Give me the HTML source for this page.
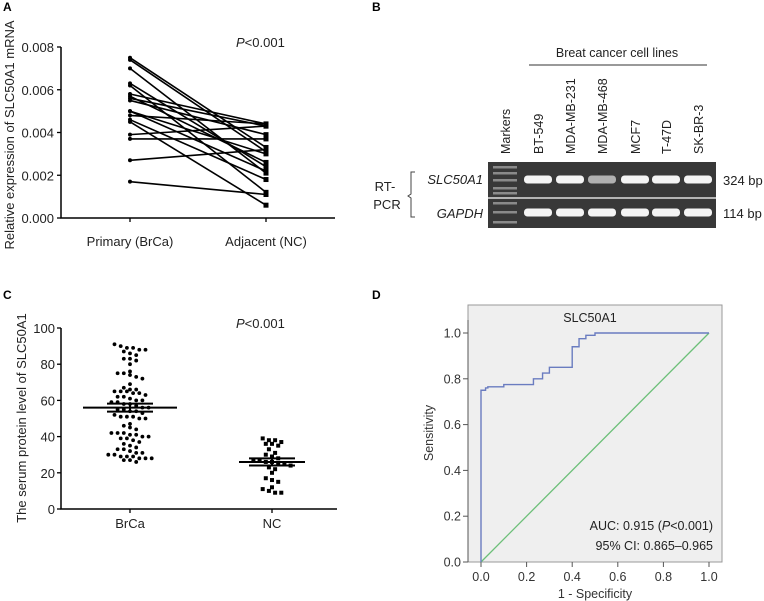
<!DOCTYPE html>
<html><head><meta charset="utf-8"><style>
body{margin:0;background:#fff;}
svg{display:block;font-family:"Liberation Sans",Arial,sans-serif;}
</style></head><body>
<svg id="fig" width="764" height="601" viewBox="0 0 764 601">
<g id="pa"></g>
<g id="pb"></g>
<g id="pc"></g>
<g id="pd"></g>
</svg>
<script>
// Panel A data
const aCategories = ["Primary (BrCa)", "Adjacent (NC)"];
const aPrimary = [0.0075,0.0074,0.0070,0.0063,0.0062,0.0058,0.0057,0.0056,0.0055,0.0050,0.0048,0.0046,0.0045,0.0039,0.0037,0.0027,0.0017,0.0050];
const aAdjacent = [0.0033,0.0031,0.0021,0.0024,0.0012,0.0044,0.0026,0.0043,0.0039,0.0022,0.0044,0.0018,0.0006,0.0043,0.0037,0.0032,0.0011,0.0030];
const aTicks = ["0.000","0.002","0.004","0.006","0.008"];
// Panel B data
const bLanes = ["Markers","BT-549","MDA-MB-231","MDA-MB-468","MCF7","T-47D","SK-BR-3"];
const bSlcIntensity = [1,1,0.6,1,1,1];
const bGapdhIntensity = [1,1,1,1,1,1];
// Panel C data
const cCategories = ["BrCa","NC"];
const cBrCa = [91,90,89,89,88,88,87,86,85,83,83,82,80,76,75,75,74,73,72,69,67,66,66,65,65,65,64,64,63,62,62,61,60,60,59,59,58,58,57,56,56,55,55,54,54,53,52,51,51,51,50,50,47,46,45,44,42,42,42,41,41,40,40,39,39,38,37,36,35,34,33,33,32,31,31,30,30,29,29,29,28,28,28,27,27,26];
const cNC = [39,38,38,37,36,36,35,33,31,30,29,28,27,27,26,26,25,25,24,23,22,20,17,16,15,12,11,10,9,9];
const cMeans = [56,26];
const cSem = [2.2,2.0];
const cTicks = [0,20,40,60,80,100];
// Panel D data
const dFpr = [0,0,0.02,0.02,0.03,0.03,0.1,0.1,0.23,0.23,0.27,0.27,0.3,0.3,0.4,0.4,0.43,0.43,0.46,0.46,0.5,0.5,1];
const dTpr = [0,0.75,0.75,0.76,0.76,0.765,0.765,0.775,0.775,0.80,0.80,0.825,0.825,0.85,0.85,0.94,0.94,0.975,0.975,0.99,0.99,1,1];
const dTicks = [0,0.2,0.4,0.6,0.8,1.0];

const NS="http://www.w3.org/2000/svg";
function mk(parent,tag,attrs,text){const e=document.createElementNS(NS,tag);for(const k in attrs)e.setAttribute(k,attrs[k]);if(text!==undefined)e.textContent=text;parent.appendChild(e);return e;}

// ---------- Panel A ----------
(function(){
const g=document.getElementById('pa');
const t=mk(g,'text',{x:3,y:11,'font-size':12,'font-weight':'bold'},'A');


const y=v=>218-(v/0.008)*171; const xs=[130,266];
const ax=mk(g,'path',{d:'M61 47 V218 H335',stroke:'#000','stroke-width':1.5,fill:'none'});


aTicks.forEach((s,i)=>{const v=+s;mk(g,'line',{x1:57,x2:61,y1:y(v),y2:y(v),stroke:'#000','stroke-width':1.3});
const tl=mk(g,'text',{x:54,y:y(v)+5,'font-size':13,'text-anchor':'end',fill:'#222'},s);

});
aCategories.forEach((c,i)=>{mk(g,'line',{x1:xs[i],x2:xs[i],y1:218,y2:222,stroke:'#000','stroke-width':1.3});
const tl=mk(g,'text',{x:xs[i],y:246,'font-size':13,'text-anchor':'middle',fill:'#222'},c);

});
const yt=mk(g,'text',{transform:'translate(14,135) rotate(-90)','font-size':13,'text-anchor':'middle',fill:'#222'},'Relative expression of SLC50A1 mRNA');


const p=mk(g,'text',{x:236,y:47,'font-size':13,fill:'#222'});


mk(p,'tspan',{'font-style':'italic'},'P');mk(p,'tspan',{},'<0.001');
aPrimary.forEach((v,i)=>{
const l=mk(g,'line',{x1:xs[0],y1:y(v),x2:xs[1],y2:y(aAdjacent[i]),stroke:'#000','stroke-width':1.6});


const c1=mk(g,'circle',{cx:xs[0],cy:y(v),r:2,fill:'#000'});


const c2=mk(g,'rect',{x:xs[1]-2.5,y:y(aAdjacent[i])-2.5,width:5,height:5,fill:'#000'});


});
})();

// ---------- Panel B ----------
(function(){
const g=document.getElementById('pb');
const t=mk(g,'text',{x:372,y:11,'font-size':12,'font-weight':'bold'},'B');


const h=mk(g,'text',{x:617,y:57,'font-size':12.5,'text-anchor':'middle',fill:'#222'},'Breat cancer cell lines');


mk(g,'line',{x1:529,x2:707,y1:65,y2:65,stroke:'#333','stroke-width':1});
const lx=[505,538,570,602,635,666,698];
bLanes.forEach((s,i)=>{const tl=mk(g,'text',{transform:`translate(${lx[i]+5},154) rotate(-90)`,'font-size':12.5,fill:'#222'},s);

});
const gel=mk(g,'rect',{x:488,y:162,width:228,height:66,fill:'#383838'});


mk(g,'line',{x1:488,x2:716,y1:198,y2:198,stroke:'#fff','stroke-width':1.2});
[167,173,180,188,193,203,212,222].forEach(yy=>mk(g,'rect',{x:493,y:yy-1,width:24,height:2.5,fill:'#8a8a8a'}));
bSlcIntensity.forEach((v,i)=>{const b=mk(g,'rect',{x:lx[i+1]-14,y:175.5,width:28,height:8,rx:3.5,fill:v>0.8?'#f4f4f4':'#b0b0b0'});

});
bGapdhIntensity.forEach((v,i)=>{const b=mk(g,'rect',{x:lx[i+1]-14,y:208.5,width:28,height:8,rx:3.5,fill:'#f4f4f4'});

});
const s1=mk(g,'text',{x:483,y:184,'font-size':13,'font-style':'italic','text-anchor':'end',fill:'#222'},'SLC50A1');


const s2=mk(g,'text',{x:483,y:218,'font-size':13,'font-style':'italic','text-anchor':'end',fill:'#222'},'GAPDH');


const r1=mk(g,'text',{x:723,y:185,'font-size':13,fill:'#222'},'324 bp');


const r2=mk(g,'text',{x:723,y:218,'font-size':13,fill:'#222'},'114 bp');


mk(g,'path',{d:'M415 172 H411 V194 L408 196 L411 198 V217 H415',stroke:'#444',fill:'none','stroke-width':1});
const rt=mk(g,'text',{x:385,y:191,'font-size':13,'text-anchor':'middle',fill:'#222'},'RT-');


mk(g,'text',{x:387,y:209,'font-size':13,'text-anchor':'middle',fill:'#222'},'PCR');
})();

// ---------- Panel C ----------
(function(){
const g=document.getElementById('pc');
const t=mk(g,'text',{x:3,y:299,'font-size':12,'font-weight':'bold'},'C');


const y=v=>509-v*1.81; const xs=[130,272];
mk(g,'path',{d:'M61 328 V509 H337',stroke:'#000','stroke-width':1.5,fill:'none'});
cTicks.forEach(v=>{mk(g,'line',{x1:57,x2:61,y1:y(v),y2:y(v),stroke:'#000','stroke-width':1.3});
const tl=mk(g,'text',{x:55,y:y(v)+5,'font-size':13,'text-anchor':'end',fill:'#222'},String(v));

});
cCategories.forEach((c,i)=>{mk(g,'line',{x1:xs[i],x2:xs[i],y1:509,y2:513,stroke:'#000','stroke-width':1.3});
const tl=mk(g,'text',{x:xs[i],y:528,'font-size':13,'text-anchor':'middle',fill:'#222'},c);

});
const yt=mk(g,'text',{transform:'translate(26,418) rotate(-90)','font-size':13,'text-anchor':'middle',fill:'#222'},'The serum protein level of SLC50A1');


const p=mk(g,'text',{x:236,y:328,'font-size':13,fill:'#222'});


mk(p,'tspan',{'font-style':'italic'},'P');mk(p,'tspan',{},'<0.001');
function swarm(vals,cx,sq){const bins={};vals.forEach(v=>{const b=Math.round(v/3.2);(bins[b]=bins[b]||[]).push(v);});
Object.values(bins).forEach(arr=>{arr.forEach((v,k)=>{const off=(k-(arr.length-1)/2)*6.2;
const e=sq?mk(g,'rect',{x:cx+off-2,y:y(v)-2,width:4,height:4,fill:'#000'}):mk(g,'circle',{cx:cx+off,cy:y(v),r:1.9,fill:'#000'});

});});}
swarm(cBrCa,xs[0],false);swarm(cNC,xs[1],true);
cMeans.forEach((m,i)=>{const w=i===0?47:33;
const ml=mk(g,'line',{x1:xs[i]-w,x2:xs[i]+w,y1:y(m),y2:y(m),stroke:'#000','stroke-width':2});


[m-cSem[i],m+cSem[i]].forEach(v=>mk(g,'line',{x1:xs[i]-23,x2:xs[i]+23,y1:y(v),y2:y(v),stroke:'#000','stroke-width':2}));
mk(g,'line',{x1:xs[i],x2:xs[i],y1:y(m-cSem[i]),y2:y(m+cSem[i]),stroke:'#000','stroke-width':2});});
})();

// ---------- Panel D ----------
(function(){
const g=document.getElementById('pd');
const t=mk(g,'text',{x:372,y:299,'font-size':12,'font-weight':'bold'},'D');


const X=v=>481+v*228, Y=v=>562-v*229;
const bg=mk(g,'rect',{x:468,y:305,width:254,height:257,fill:'#efefef',stroke:'#999','stroke-width':1});


mk(g,'line',{x1:468,x2:468,y1:320,y2:562,stroke:'#555','stroke-width':1});
dTicks.forEach(v=>{mk(g,'line',{x1:463,x2:468,y1:Y(v),y2:Y(v),stroke:'#555'});
const tl=mk(g,'text',{x:461,y:Y(v)+4.5,'font-size':12.5,'text-anchor':'end',fill:'#333'},v.toFixed(1));


mk(g,'line',{x1:X(v),x2:X(v),y1:562,y2:567,stroke:'#555'});
const xl=mk(g,'text',{x:X(v),y:581,'font-size':12.5,'text-anchor':'middle',fill:'#333'},v.toFixed(1));

});
const xt=mk(g,'text',{x:595,y:598,'font-size':12.5,'text-anchor':'middle',fill:'#333'},'1 - Specificity');


const yt=mk(g,'text',{transform:'translate(433,433) rotate(-90)','font-size':12.5,'text-anchor':'middle',fill:'#333'},'Sensitivity');


const ti=mk(g,'text',{x:590,y:322,'font-size':12.5,'text-anchor':'middle',fill:'#222'},'SLC50A1');


const dg=mk(g,'line',{x1:X(0),y1:Y(0),x2:X(1),y2:Y(1),stroke:'#6cbf78','stroke-width':1.3});


const roc=mk(g,'polyline',{points:dFpr.map((f,i)=>X(f)+','+Y(dTpr[i])).join(' '),fill:'none',stroke:'#6a7cc0','stroke-width':1.4});


const a=mk(g,'text',{x:713,y:530,'font-size':12.5,'text-anchor':'end',fill:'#222'});


mk(a,'tspan',{},'AUC: 0.915 (');mk(a,'tspan',{'font-style':'italic'},'P');mk(a,'tspan',{},'<0.001)');
const ci=mk(g,'text',{x:713,y:550,'font-size':12.5,'text-anchor':'end',fill:'#222'},'95% CI: 0.865–0.965');


})();
</script>
</body></html>
